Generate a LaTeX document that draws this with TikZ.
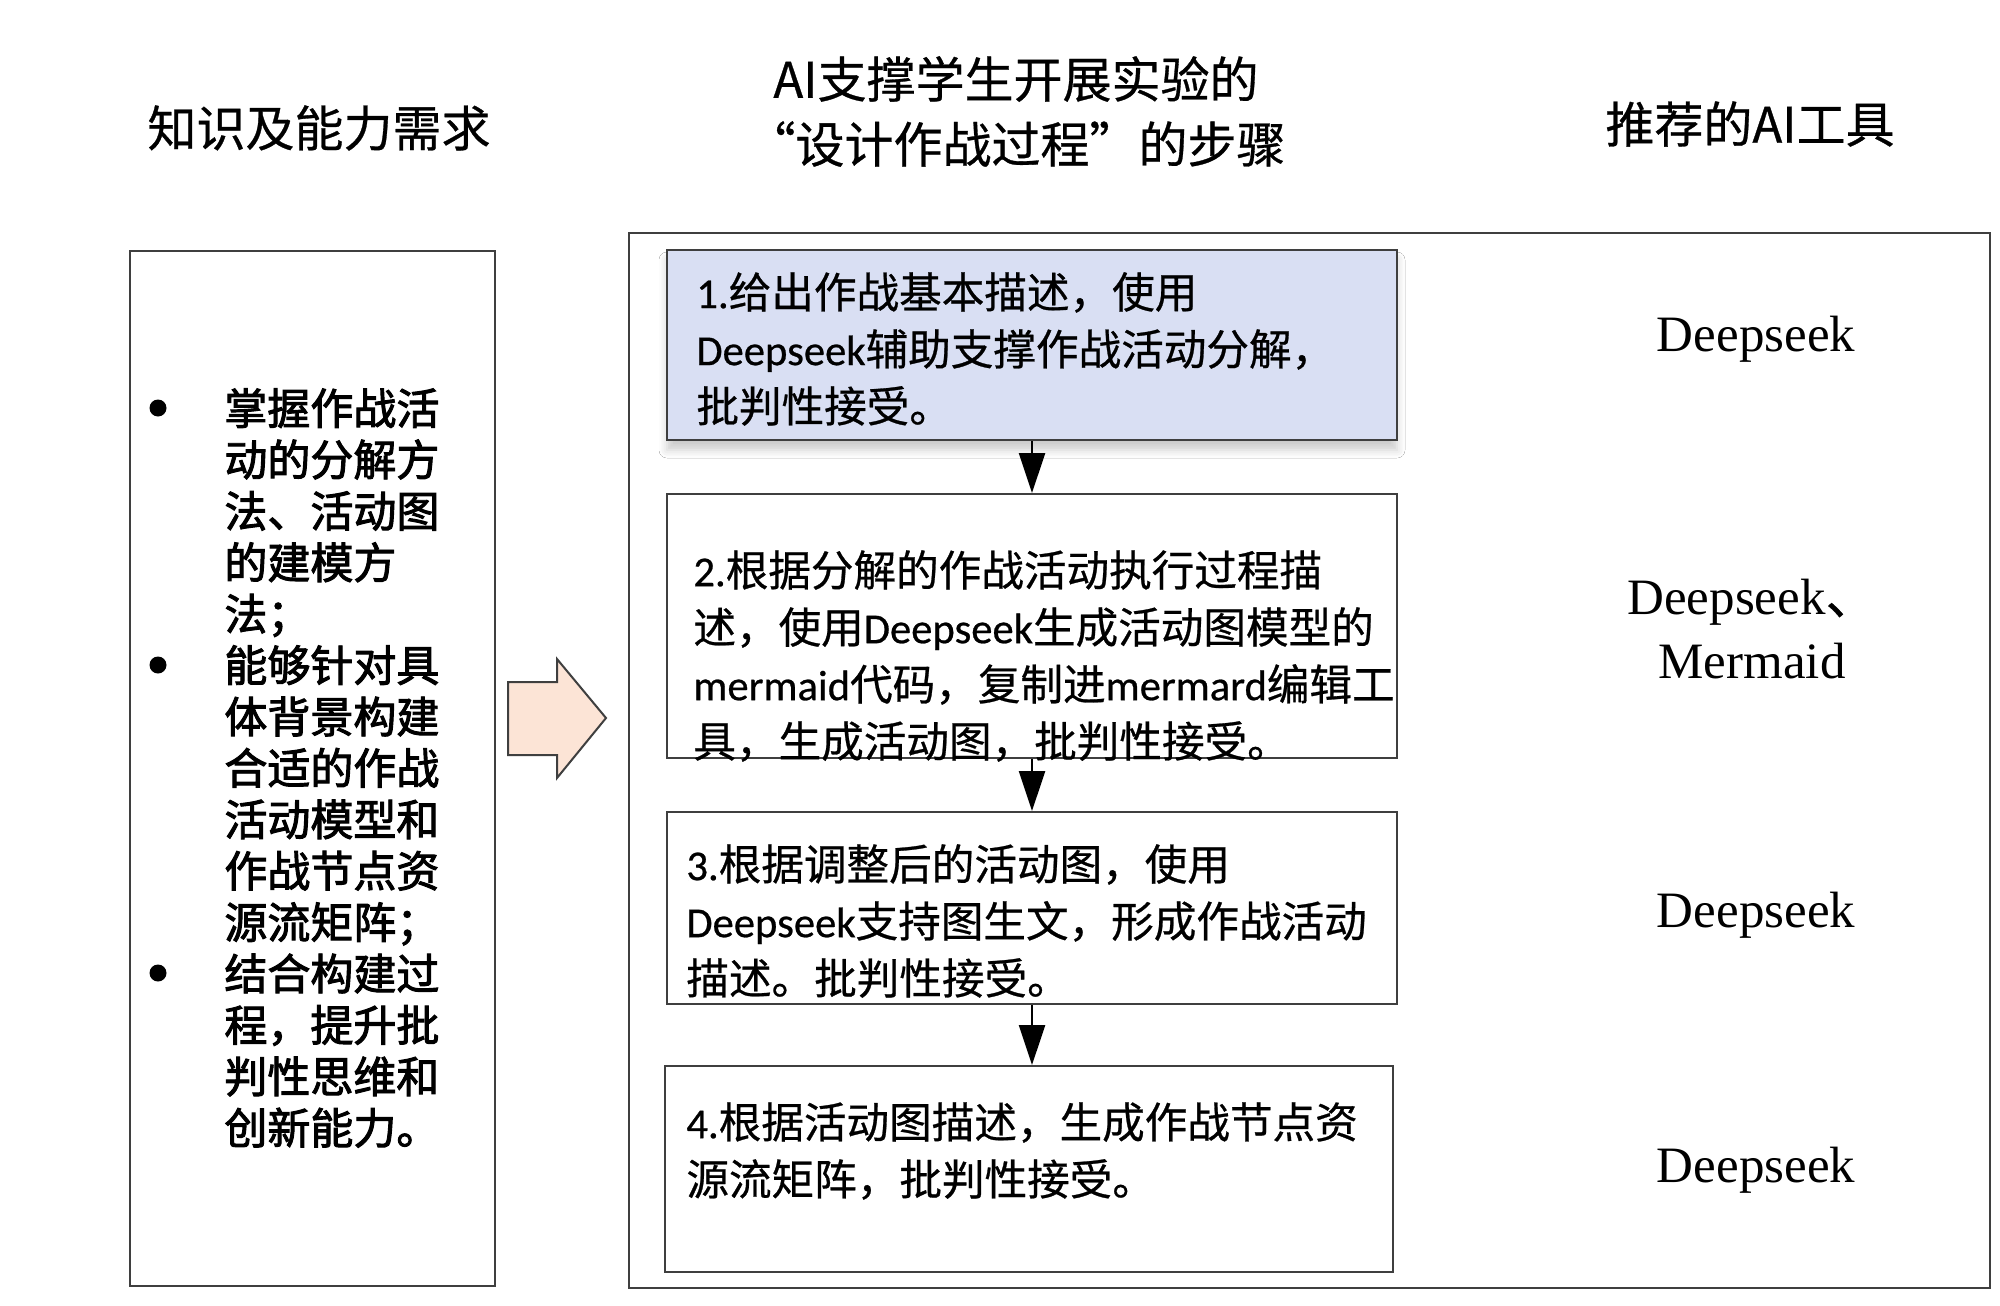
\documentclass[tikz,border=0pt]{standalone}
\usepackage{fontspec}
\setmainfont{Liberation Serif}
\newfontfamily\cjk[FakeBold=0.6]{Noto Sans CJK SC}
\newfontfamily\cjkb[FakeBold=2.2]{Noto Sans CJK SC}
\newfontfamily\lat[FakeBold=0.6]{Carlito}
\usetikzlibrary{arrows.meta,shadows.blur}
\definecolor{boxblue}{HTML}{D9DFF3}
\definecolor{peach}{HTML}{FCE4D6}
\definecolor{edge}{HTML}{3F3F3F}
\newcommand{\ds}{{\lat Deepseek}}
\begin{document}
\begin{tikzpicture}[x=0.5pt,y=-0.5pt,
  frame/.style={draw=edge,line width=1pt,inner sep=0pt},
  stepbox/.style={frame,minimum width=365pt},
  boxtext/.style={inner sep=0pt,anchor=west,align=left,font=\cjk\fontsize{21.3pt}{28.5pt}\selectfont},
  lefttext/.style={inner sep=0pt,anchor=west,align=left,font=\cjkb\fontsize{21.5pt}{25.7pt}\selectfont},
  title/.style={inner sep=0pt,align=center,font=\cjk\fontsize{24.5pt}{32.5pt}\selectfont},
  tool/.style={inner sep=0pt,align=center,font=\fontsize{25.5pt}{32pt}\selectfont},
  bulletdot/.style={circle,fill=black,inner sep=0pt,minimum size=8.5pt},
  flow/.style={-{Triangle[length=20pt,width=13pt]},line width=1.2pt,draw=black}]
\useasboundingbox (0,0) rectangle (2000,1305);
\fill[white] (0,0) rectangle (2000,1305);

% titles
\node[title] (t1) at (319,128) {知识及能力需求};
\node[title] (t2) at (1016,111.5) {AI支撑学生开展实验的\\“设计作战过程”的步骤};
\node[title] (t3) at (1750,124) {推荐的AI工具};

% left box
\node[frame,minimum width=182.5pt,minimum height=517.5pt] (left) at (312.5,768.5) {};
\node[bulletdot] (b1) at (158,408) {};
\node[bulletdot] (b2) at (158,665) {};
\node[bulletdot] (b3) at (158,973) {};
\node[lefttext] (lt) at (224,768) {掌握作战活\\动的分解方\\法、活动图\\的建模方\\法；\\能够针对具\\体背景构建\\合适的作战\\活动模型和\\作战节点资\\源流矩阵；\\结合构建过\\程，提升批\\判性思维和\\创新能力。};

% block arrow
\draw[draw=edge,line width=1pt,fill=peach] (508,682) -- (557,682) -- (557,659) -- (606,718) -- (557,778) -- (557,755) -- (508,755) -- cycle;

% container
\node[frame,minimum width=680.5pt,minimum height=527.5pt] (cont) at (1309.5,760.5) {};

% step boxes
\node[stepbox,fill=boxblue,minimum height=95pt,blur shadow={shadow xshift=0pt,shadow yshift=-5pt,shadow opacity=20,shadow blur radius=4pt}] (s1) at (1032,345) {};
\node[stepbox,minimum height=132pt] (s2) at (1032,626) {};
\node[stepbox,minimum height=96pt] (s3) at (1032,908) {};
\node[frame,minimum width=364pt,minimum height=103pt] (s4) at (1029,1169) {};

\node[boxtext] (s1t) at (696,349) {{\lat 1.}给出作战基本描述，使用\\\ds 辅助支撑作战活动分解，\\批判性接受。};
\node[boxtext] (s2t) at (693,656) {{\lat 2.}根据分解的作战活动执行过程描\\述，使用\ds 生成活动图模型的\\{\lat mermaid}代码，复制进{\lat mermard}编辑工\\具，生成活动图，批判性接受。};
\node[boxtext] (s3t) at (686,921) {{\lat 3.}根据调整后的活动图，使用\\\ds 支持图生文，形成作战活动\\描述。批判性接受。};
\node[boxtext] (s4t) at (686,1151) {{\lat 4.}根据活动图描述，生成作战节点资\\源流矩阵，批判性接受。};

% arrows
\draw[flow] (s1.south) -- (s2.north);
\draw[flow] (s2.south) -- (s3.north);
\draw[flow] (s3.south) -- (s3.south |- s4.north);

% tools
\node[tool] (a1) at (1756,339) {Deepseek};
\node[tool] (a2) at (1752,629) {Deepseek{\cjk 、}\\Mermaid};
\node[tool] (a3) at (1756,915) {Deepseek};
\node[tool] (a4) at (1756,1170) {Deepseek};
\end{tikzpicture}
\end{document}
